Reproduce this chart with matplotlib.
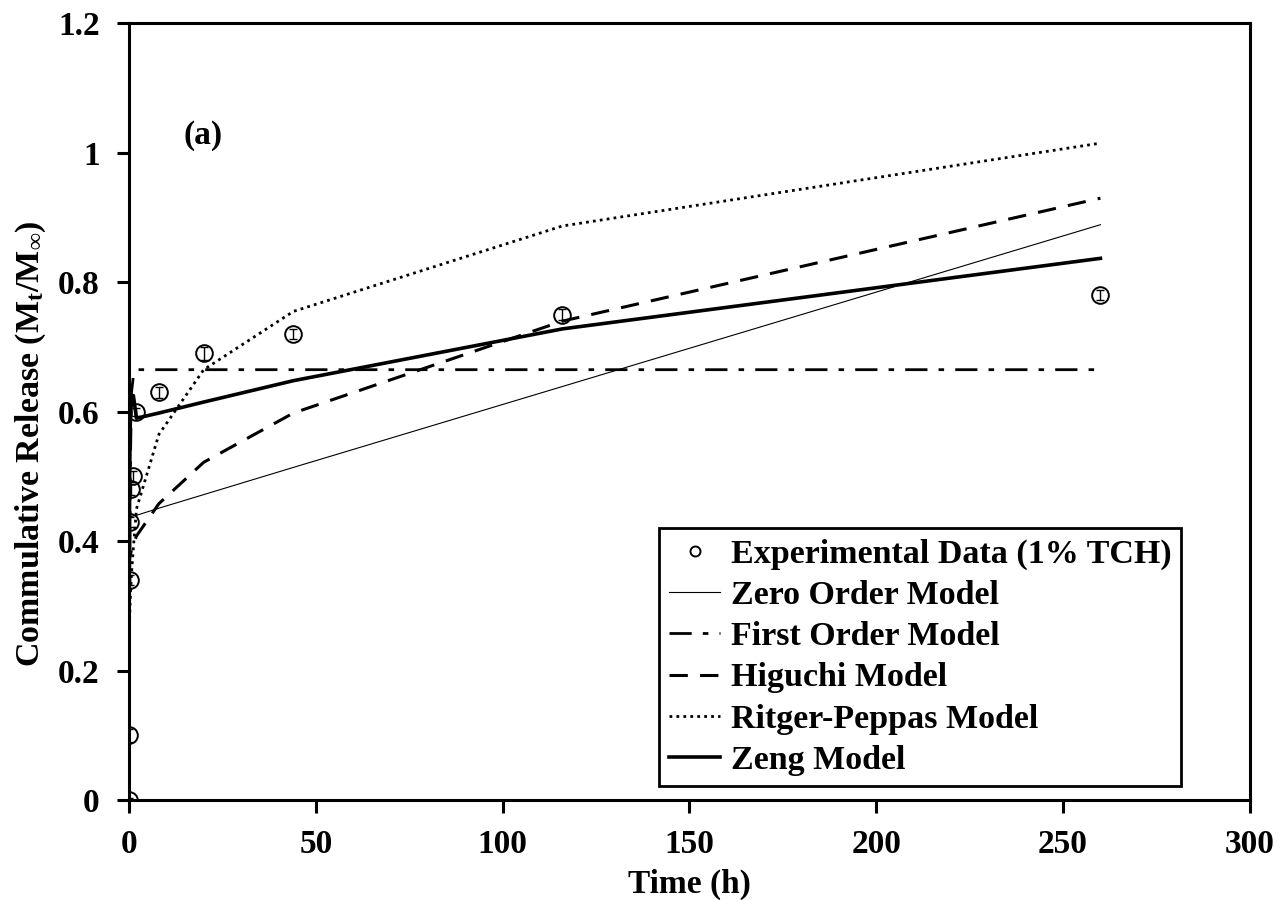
import matplotlib
matplotlib.use("Agg")
import matplotlib.pyplot as plt
from matplotlib.ticker import FixedLocator, FuncFormatter

plt.rcParams["font.family"] = ["Liberation Serif", "DejaVu Serif"]
plt.rcParams["font.weight"] = "bold"
plt.rcParams["mathtext.fontset"] = "custom"
plt.rcParams["mathtext.rm"] = "Liberation Serif:bold"
plt.rcParams["mathtext.bf"] = "Liberation Serif:bold"
plt.rcParams["mathtext.it"] = "Liberation Serif:bold"

# sampling times (h)
time_h = [0, 0.05, 0.17, 0.33, 0.67, 1.17, 2, 8, 20, 44, 116, 260]

# experimental data (1% TCH)
exp_release = [0.0, 0.10, 0.34, 0.43, 0.48, 0.50, 0.60, 0.63, 0.69, 0.72, 0.75, 0.78]
exp_err = [0.004, 0.01, 0.008, 0.008, 0.008, 0.008, 0.006, 0.008, 0.01, 0.008, 0.008, 0.008]

# model curves evaluated at the sampling times
zero_order = [0.437, 0.437, 0.437, 0.438, 0.438, 0.439, 0.440, 0.451, 0.472, 0.514, 0.639, 0.889]
first_order = [0.0, 0.10, 0.30, 0.50, 0.63, 0.655, 0.665, 0.665, 0.665, 0.665, 0.665, 0.665]
higuchi = [0.358, 0.366, 0.373, 0.378, 0.387, 0.396, 0.408, 0.458, 0.522, 0.598, 0.740, 0.930]
ritger_peppas = [0.0, 0.24, 0.28, 0.31, 0.35, 0.39, 0.45, 0.565, 0.665, 0.755, 0.887, 1.015]
zeng = [0.0, 0.30, 0.50, 0.58, 0.62, 0.625, 0.59, 0.598, 0.615, 0.648, 0.728, 0.837]

x_ticks = [0, 50, 100, 150, 200, 250, 300]
y_ticks = [0, 0.2, 0.4, 0.6, 0.8, 1.0, 1.2]

fig = plt.figure(figsize=(12.81, 9.0), dpi=100)
ax = fig.add_axes([0.1007, 0.111, 0.875, 0.863])

# error bars first, markers plotted separately so the legend shows a plain circle
ax.errorbar(time_h, exp_release, yerr=exp_err, fmt="none", ecolor="black",
            elinewidth=1.0, capsize=3, capthick=1.0, zorder=5)
ax.plot(time_h, exp_release, "o", mfc="none", mec="black", ms=12, mew=1.4,
        label="Experimental Data (1% TCH)", zorder=6)
ax.plot(time_h, zero_order, color="black", lw=0.8, label="Zero Order Model")
ax.plot(time_h, first_order, color="black", lw=2.0, dashes=(8, 4, 2, 4),
        label="First Order Model")
ax.plot(time_h, higuchi, color="black", lw=2.2, dashes=(6, 4), label="Higuchi Model")
ax.plot(time_h, ritger_peppas, color="black", lw=2.0, linestyle=(0, (1, 1.5)),
        label="Ritger-Peppas Model")
ax.plot(time_h, zeng, color="black", lw=2.6, label="Zeng Model")

ax.set_xlim(0, 300)
ax.set_ylim(0, 1.2)
ax.xaxis.set_major_locator(FixedLocator(x_ticks))
ax.yaxis.set_major_locator(FixedLocator(y_ticks))
ax.yaxis.set_major_formatter(FuncFormatter(lambda v, p: f"{v:g}"))

for side in ["left", "bottom", "top", "right"]:
    ax.spines[side].set_linewidth(2.2)
ax.tick_params(axis="both", direction="out", length=9, width=2.2,
               labelsize=24, pad=12)
ax.tick_params(top=False, right=False)
for lab in ax.get_xticklabels() + ax.get_yticklabels():
    lab.set_fontweight("bold")

ax.set_xlabel("Time (h)", fontsize=24, fontweight="bold", labelpad=6)
ax.set_ylabel(r"Commulative Release (M$_{\mathbf{t}}$/M$_{\mathbf{\infty}}$)",
              fontsize=24.5, fontweight="bold")
ax.yaxis.set_label_coords(-0.072, 0.459)

ax.text(14.5, 1.027, "(a)", fontsize=24, fontweight="bold", ha="left", va="center")

leg = ax.legend(loc="lower right", bbox_to_anchor=(0.939, 0.018), fontsize=24.5,
                frameon=True, fancybox=False, edgecolor="black", handlelength=1.5,
                handletextpad=0.3, borderpad=0.3, labelspacing=0.3,
                borderaxespad=0, markerscale=0.6, framealpha=1)
leg.get_frame().set_linewidth(2.0)
for t in leg.get_texts():
    t.set_fontweight("bold")

fig.savefig("out.png", dpi=100)
